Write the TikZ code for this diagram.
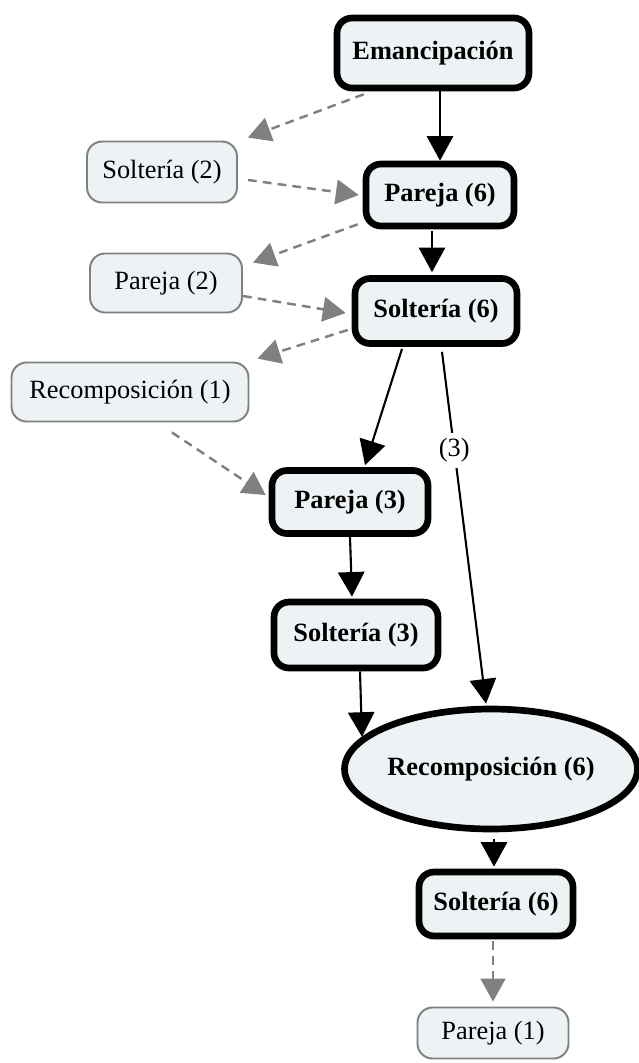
\documentclass[tikz,border=0pt]{standalone}
\usepackage{fontspec}
\setmainfont{Liberation Serif}
\usetikzlibrary{arrows.meta,calc,shapes.geometric}
\definecolor{caja}{RGB}{237,242,245}
\definecolor{gris}{RGB}{128,128,128}
\begin{document}
\begin{tikzpicture}[x=0.02cm, y=-0.02cm,
	every node/.style={font=\fontsize{15}{18}\selectfont},
	fuerte/.style={draw, line width=3.8pt, fill=caja, rounded corners=0.3cm,
		font=\fontsize{15}{18}\selectfont\bfseries},
	debil/.style={draw=gris, line width=1.1pt, fill=caja, rounded corners=0.3cm},
	flecha/.style={line width=1.2pt, -{Triangle[length=14pt, width=15pt]}},
	gflecha/.style={gris, line width=1.4pt, dash pattern=on 5pt off 3.5pt,
		-{Triangle[length=13pt, width=14pt]}}]
\useasboundingbox (0,0) rectangle (639,1063);
\node[fuerte, minimum width=3.84cm, minimum height=1.4cm] (emanc) at (433,53) {Emancipación};
\node[debil, minimum width=3cm, minimum height=1.22cm] (solt2) at (162,172) {Soltería (2)};
\node[fuerte, minimum width=2.96cm, minimum height=1.24cm] (par6) at (440,195) {Pareja (6)};
\node[debil, minimum width=3.04cm, minimum height=1.18cm] (par2) at (166,283) {Pareja (2)};
\node[fuerte, minimum width=3.24cm, minimum height=1.3cm] (solt6) at (436,311) {Soltería (6)};
\node[debil, minimum width=4.74cm, minimum height=1.18cm] (recomp1) at (130,392) {Recomposición (1)};
\node[fuerte, minimum width=3.12cm, minimum height=1.26cm] (par3) at (350,502) {Pareja (3)};
\node[fuerte, minimum width=3.28cm, minimum height=1.32cm] (solt3) at (356,635) {Soltería (3)};
\node[fuerte, sharp corners, ellipse, inner sep=0pt, minimum width=5.64cm,
	minimum height=2.4cm] (recomp6) at (491,769) {Recomposición (6)};
\node[fuerte, minimum width=3.08cm, minimum height=1.28cm] (soltfin) at (496,904) {Soltería (6)};
\node[debil, minimum width=3.02cm, minimum height=1.02cm] (par1) at (493,1033) {Pareja (1)};
\draw[flecha] (emanc.south -| par6) -- (par6.north);
\draw[gflecha] ($(emanc.south west)+(30,3)$) -- ($(solt2.north east)+(10,-3)$);
\draw[gflecha] ($(solt2.east)+(10,8)$) -- ($(par6.west)+(-4,0)$);
\draw[gflecha] ($(par6.south west)+(-5,-5)$) -- ($(par2.north east)+(10,10)$);
\draw[flecha] ($(par6.south)+(-8,2)$) -- ($(solt6.north)+(-4,-3)$);
\draw[gflecha] ($(par2.east)+(0,13)$) -- ($(solt6.west)+(-6,2)$);
\draw[gflecha] ($(solt6.west)+(-4,19)$) -- ($(recomp1.north east)+(8,-3)$);
\draw[flecha] ($(solt6.south)+(-34,2)$) -- ($(par3.north)+(15,-2)$);
\draw[flecha] ($(solt6.south)+(6,5)$)
	-- node[pos=0.28, fill=white, inner sep=3pt] {(3)} ($(recomp6.north)+(-5,-2)$);
\draw[gflecha] ($(recomp1.south)+(42,10)$) -- ($(par3.west)+(-3,-7)$);
\draw[flecha] (par3.south) -- ($(solt3.north)+(-4,-2)$);
\draw[flecha] ($(solt3.south)+(4,0)$) -- (recomp6.166);
\draw[flecha] ($(recomp6.south)+(3,7)$) -- ($(soltfin.north)+(-2,-2)$);
\draw[gflecha] ($(soltfin.south)+(-3,2)$) -- ($(par1.north)+(0,-5)$);
\end{tikzpicture}
\end{document}
